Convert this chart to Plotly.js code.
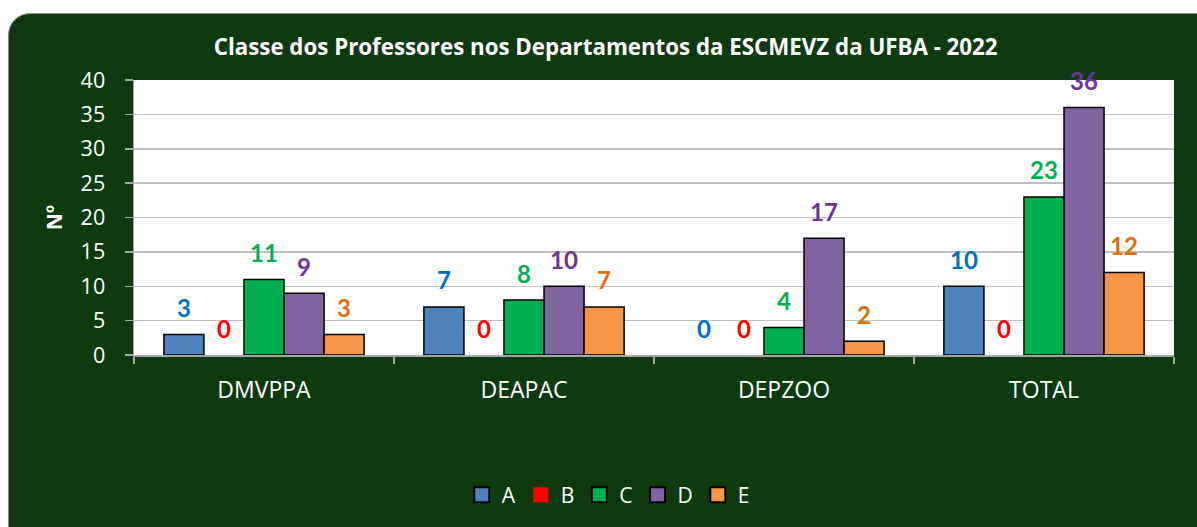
<!DOCTYPE html>
<html><head><meta charset="utf-8">
<script src="https://cdn.plot.ly/plotly-3.0.1.min.js"></script>
<style>
html,body{margin:0;padding:0;background:#fff;width:1197px;height:527px;overflow:hidden;}
#bg{position:absolute;left:8px;top:13px;width:1210px;height:540px;background:#0f3a0f;border:1px solid #8a8a8a;border-radius:22px;}
#chart{position:absolute;left:0;top:0;width:1197px;height:527px;}
</style></head>
<body><div id="bg"></div><div id="chart"></div>
<script>
const categories = ["DMVPPA", "DEAPAC", "DEPZOO", "TOTAL"];
const seriesNames = ["A", "B", "C", "D", "E"];
const valuesA = [3, 7, 0, 10];
const valuesB = [0, 0, 0, 0];
const valuesC = [11, 8, 4, 23];
const valuesD = [9, 10, 17, 36];
const valuesE = [3, 7, 2, 12];
const yTicks = [0, 5, 10, 15, 20, 25, 30, 35, 40];

const allValues = [valuesA, valuesB, valuesC, valuesD, valuesE];
const barColors = ["#4f81bd", "#ff0000", "#00b050", "#8064a2", "#f79646"];
const labelColors = ["#0070c0", "#ff0000", "#00b050", "#7030a0", "#e46c0a"];
const FONT = "'Open Sans', sans-serif";
const LFONT = "Lato, sans-serif";

const traces = seriesNames.map((n, i) => ({
  type: "bar", name: n, x: categories, y: allValues[i],
  marker: {color: barColors[i], line: {color: "#000", width: allValues[i].map(v => v === 0 ? 0 : 1.5)}},
  hoverinfo: "none"
}));

const barPx = 40;
const annotations = [];
seriesNames.forEach((n, i) => {
  categories.forEach((c, j) => {
    annotations.push({
      x: c, y: allValues[i][j], xref: "x", yref: "y",
      text: String(allValues[i][j]), showarrow: false,
      xshift: (i - 2) * barPx, yshift: 27, yanchor: "middle",
      font: {family: LFONT, size: 24, color: labelColors[i], weight: "bold"}
    });
  });
});

const layout = {
  width: 1197, height: 527,
  margin: {l: 134, r: 23, t: 80, b: 172},
  paper_bgcolor: "rgba(0,0,0,0)", plot_bgcolor: "#ffffff",
  barmode: "group", bargap: 0.23, bargroupgap: 0,
  title: {text: "<b>Classe dos Professores nos Departamentos da ESCMEVZ da UFBA - 2022</b>",
    xref: "container", x: 0.506, xanchor: "center", yref: "container", y: 0.911, yanchor: "middle",
    font: {family: FONT, size: 22.3, color: "#ffffff"}},
  font: {family: FONT, color: "#ffffff"},
  xaxis: {
    type: "category", tickson: "boundaries", ticks: "outside", ticklen: 7, tickcolor: "#a6a6a6", tickwidth: 1.5,
    showline: true, linecolor: "#a6a6a6", linewidth: 1.5, showgrid: false,
    tickfont: {family: FONT, size: 23, color: "#ffffff"}, ticklabelstandoff: 14, fixedrange: true
  },
  yaxis: {
    range: [0, 40], tickvals: yTicks, ticktext: yTicks.map(String),
    ticks: "outside", ticklen: 8, tickcolor: "#a6a6a6", tickwidth: 1.5,
    showline: true, linecolor: "#a6a6a6", linewidth: 1.5,
    showgrid: true, gridcolor: "#c0c0c0", gridwidth: 1.5, zeroline: false,
    tickfont: {family: FONT, size: 21.5, color: "#ffffff"}, ticklabelstandoff: 15,
    title: {text: "<b>Nº</b>", font: {family: FONT, size: 21, color: "#ffffff"}, standoff: 12},
    fixedrange: true
  },
  showlegend: true,
  legend: {orientation: "h", x: 0.456, xanchor: "center", y: -0.509, yanchor: "middle",
    font: {family: FONT, size: 21, color: "#ffffff"}, itemwidth: 30,
    bgcolor: "rgba(0,0,0,0)", traceorder: "normal"},
  annotations: annotations
};

Plotly.newPlot("chart", traces, layout, {displayModeBar: false, staticPlot: true}).then(gd => {
  gd.querySelectorAll(".legendpoints path").forEach(p => {
    p.setAttribute("d", "M7.5,7.5H-7.5V-7.5H7.5Z");
    p.style.strokeWidth = "2px";
  });
});
</script></body></html>
